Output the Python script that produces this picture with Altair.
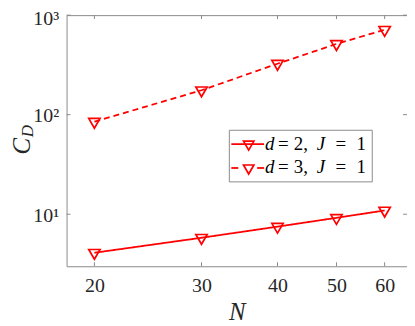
import altair as alt
import pandas as pd

# ---- data ----
N = [20, 30, 40, 50, 60]
cd_d2 = [4.1, 5.8, 7.5, 9.2, 10.9]
cd_d3 = [85, 176, 325, 514, 713]
series = ["d = 2, J = 1", "d = 3, J = 1"]
x_ticks = [20, 30, 40, 50, 60]
y_ticks = [10, 100, 1000]

W, H = 343, 253
FONT = "Liberation Serif"
RED = "#FF0000"
GRAY = "#8a8a8a"
TXT = "#262626"
TRI = "M-1,-0.577L1,-0.577L0,1.155Z"

df = pd.DataFrame({
    "N": N + N,
    "C": cd_d2 + cd_d3,
    "s": [series[0]] * len(N) + [series[1]] * len(N),
})
one = pd.DataFrame({"a": [0]})

xs = alt.Scale(type="log", domain=[18, 65.3], nice=False)
ys = alt.Scale(type="log", domain=[3, 1000], nice=False)

x_axis = alt.Axis(values=x_ticks, format="d", ticks=False, tickSize=0, domain=False, grid=False,
                  labelFont=FONT, labelFontSize=20, labelColor=TXT, labelPadding=9,
                  title="N", titleFont=FONT, titleFontSize=25, titleFontStyle="italic",
                  titleFontWeight="normal", titleColor=TXT, titlePadding=5)
y_axis = alt.Axis(values=y_ticks, ticks=False, tickSize=0, domain=False, grid=False,
                  labelExpr="datum.value == 10 ? '10¹' : (datum.value == 100 ? '10²' : '10³')",
                  labelFont=FONT, labelFontSize=20, labelColor=TXT, labelPadding=8,
                  labelOffset={"condition": {"test": "datum.value == 1000", "value": 3}, "value": 1},
                  title=None)

lines = alt.Chart(df).mark_line(color=RED, strokeWidth=1.8).encode(
    x=alt.X("N:Q", scale=xs, axis=x_axis),
    y=alt.Y("C:Q", scale=ys, axis=y_axis),
    strokeDash=alt.StrokeDash("s:N", scale=alt.Scale(domain=series, range=[[1, 0], [6, 4]]), legend=None),
)
points = alt.Chart(df).mark_point(shape=TRI, filled=False, size=130, strokeWidth=1.7,
                                  color=RED, opacity=1).encode(
    x=alt.X("N:Q", scale=xs),
    y=alt.Y("C:Q", scale=ys),
)

# inward ticks (MATLAB style box)
xt = pd.DataFrame({"N": x_ticks})
yt = pd.DataFrame({"C": y_ticks})
tick_layers = []
for yy in [H - 2, 2]:
    tick_layers.append(alt.Chart(xt).mark_tick(orient="vertical", size=4, thickness=1, color=GRAY, opacity=1)
                       .encode(x=alt.X("N:Q", scale=xs), y=alt.value(yy)))
for xx in [2, W - 2]:
    tick_layers.append(alt.Chart(yt).mark_tick(orient="horizontal", size=4, thickness=1, color=GRAY, opacity=1)
                       .encode(y=alt.Y("C:Q", scale=ys), x=alt.value(xx)))

# y title C_D
ytitle_c = alt.Chart(one).mark_text(text="C", font=FONT, fontSize=25, fontStyle="italic", angle=270,
                                    align="center", baseline="middle", color=TXT).encode(
    x=alt.value(-45), y=alt.value(132))
ytitle_d = alt.Chart(one).mark_text(text="D", font=FONT, fontSize=17, fontStyle="italic", angle=270,
                                    align="center", baseline="middle", color=TXT).encode(
    x=alt.value(-39), y=alt.value(117))

# legend
leg_box = alt.Chart(one).mark_rect(fill="white", stroke=GRAY, strokeWidth=1).encode(
    x=alt.value(164), x2=alt.value(308), y=alt.value(116), y2=alt.value(168))
leg_layers = [leg_box]
row_y = [130, 154]
leg_layers.append(alt.Chart(one).mark_rule(color=RED, strokeWidth=1.8).encode(
    x=alt.value(166), x2=alt.value(199), y=alt.value(row_y[0])))
for a, b in [(166, 173), (192, 199)]:
    leg_layers.append(alt.Chart(one).mark_rule(color=RED, strokeWidth=1.8).encode(
        x=alt.value(a), x2=alt.value(b), y=alt.value(row_y[1])))
for ry in row_y:
    leg_layers.append(alt.Chart(one).mark_point(shape=TRI, filled=False, size=110, strokeWidth=1.7,
                                                color=RED, opacity=1).encode(
        x=alt.value(183.5), y=alt.value(ry)))

pieces = [("d", 200, True), ("=", 213, False), (None, 229, False), ("J", 252, True), ("=", 271, False), ("1", 292, False)]
for i, ry in enumerate(row_y):
    dval = "2," if i == 0 else "3,"
    for txt, px, ital in pieces:
        t = dval if txt is None else txt
        leg_layers.append(alt.Chart(one).mark_text(
            text=t, font=FONT, fontSize=19, fontStyle="italic" if ital else "normal",
            align="left", baseline="alphabetic", color="#000000").encode(
            x=alt.value(px), y=alt.value(ry + 5.5)))

chart = alt.layer(lines, points, *tick_layers, ytitle_c, ytitle_d, *leg_layers).properties(
    width=W, height=H,
    autosize="none",
    padding={"left": 59, "top": 6, "right": 0, "bottom": 59},
    background="white",
).configure_view(stroke=GRAY, strokeWidth=1)

chart.save("out.html", embed_options={"renderer": "svg", "actions": False})
